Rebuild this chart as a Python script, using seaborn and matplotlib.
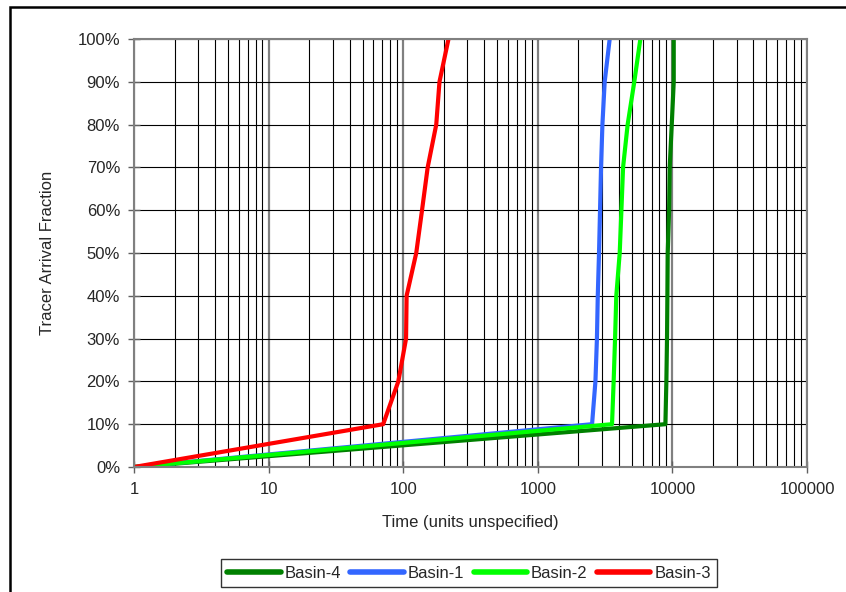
import numpy as np
import pandas as pd
import matplotlib
matplotlib.use("Agg")
import matplotlib.pyplot as plt
import seaborn as sns
from matplotlib.ticker import PercentFormatter, LogLocator, FixedLocator, FuncFormatter, NullFormatter
from matplotlib.patches import Rectangle

# data
fraction = [0, 10, 20, 30, 40, 50, 60, 70, 80, 90, 100]
basin_4 = [1, 8870, 9020, 9120, 9180, 9230, 9450, 9550, 9890, 10230, 10230]
basin_1 = [1, 2530, 2680, 2750, 2790, 2850, 2900, 2950, 3020, 3140, 3420]
basin_2 = [1, 3560, 3660, 3750, 3830, 4060, 4180, 4300, 4650, 5210, 5780]
basin_3 = [1, 71, 92, 105, 106, 125, 138, 152, 176, 186, 217]

names = ["Basin-4", "Basin-1", "Basin-2", "Basin-3"]
colors = ["#008000", "#3366FF", "#00FF00", "#FF0000"]

df = pd.concat([
    pd.DataFrame({"time": t, "fraction": fraction, "basin": n})
    for n, t in zip(names, [basin_4, basin_1, basin_2, basin_3])
])

sns.set_style("white")
plt.rcParams["font.family"] = ["Liberation Sans", "DejaVu Sans"]

fig = plt.figure(figsize=(8.46, 5.92), dpi=100)
ax = fig.add_axes([134 / 846, 1 - 467 / 592, 673 / 846, 428 / 592])

sns.lineplot(data=df, x="time", y="fraction", hue="basin", palette=dict(zip(names, colors)),
             hue_order=names, sort=False, estimator=None, linewidth=3, ax=ax)

ax.set_xscale("log")
ax.set_xlim(1, 100000)
ax.set_ylim(0, 100)
ax.yaxis.set_major_locator(FixedLocator(np.arange(0, 101, 10)))
ax.yaxis.set_major_formatter(PercentFormatter(decimals=0))
ax.xaxis.set_major_locator(LogLocator(base=10, numticks=10))
ax.xaxis.set_minor_locator(LogLocator(base=10, subs=np.arange(2, 10), numticks=20))
ax.xaxis.set_major_formatter(FuncFormatter(lambda v, p: f"{int(round(v))}"))
ax.xaxis.set_minor_formatter(NullFormatter())

ax.grid(which="major", axis="x", color="#808080", linewidth=1.6)
ax.grid(which="minor", axis="x", color="black", linewidth=0.8)
ax.grid(which="major", axis="y", color="black", linewidth=0.8)
ax.set_axisbelow(True)
for s in ax.spines.values():
    s.set_color("#808080")
    s.set_linewidth(1.5)

ax.tick_params(axis="both", which="major", direction="inout", length=8, width=1,
               color="#606060", labelsize=12, bottom=True, left=True)
ax.tick_params(axis="y", pad=6)
ax.tick_params(axis="x", pad=7)
ax.tick_params(axis="x", which="minor", length=0)

ax.set_xlabel("Time (units unspecified)", fontsize=12, labelpad=13)
ax.set_ylabel("Tracer Arrival Fraction", fontsize=12, labelpad=16)

handles, labels = ax.get_legend_handles_labels()
leg = fig.legend(handles, labels, loc="upper center", bbox_to_anchor=(469 / 846, 1 - 559 / 592),
                 ncol=4, frameon=True, fancybox=False, edgecolor="black", fontsize=12,
                 handlelength=3.2, handletextpad=0.25, columnspacing=0.55, borderpad=0.4,
                 borderaxespad=0)
leg.get_frame().set_linewidth(1.0)
ax.get_legend().remove()
for h in leg.get_lines():
    h.set_linewidth(4)

fig.patches.append(Rectangle((10 / 846, -0.1), 1.2, 1.1 - 7 / 592, transform=fig.transFigure,
                             fill=False, edgecolor="black", linewidth=1.8))

fig.savefig("out.png", dpi=100)
